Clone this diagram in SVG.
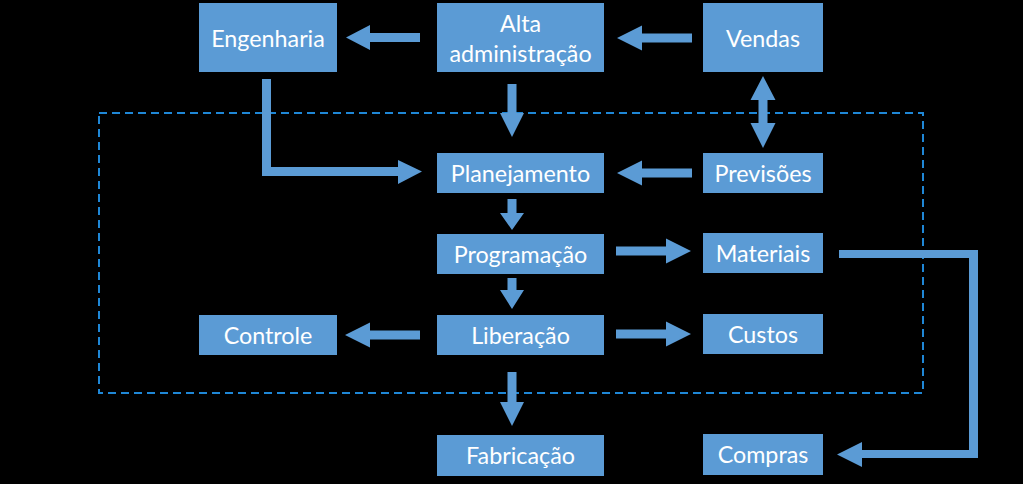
<svg xmlns="http://www.w3.org/2000/svg" width="1023" height="484" viewBox="0 0 1023 484">
<style>
.box{fill:#5B9BD5}
.t{fill:#FFFFFF;font-family:Lato,"Open Sans",sans-serif;font-size:23.3px;text-anchor:middle}
.arr{fill:#5B9BD5}
.dash{fill:none;stroke:#1F87D6;stroke-width:2;stroke-dasharray:8 5}
</style>
<rect width="1023" height="484" fill="#000000"/>
<rect class="dash" x="99" y="113" width="824" height="280"/>
<g id="connectors">
<polygon class="arr" points="346,37.5 370,25 370,33 420,33 420,42 370,42 370,50"/>
<polygon class="arr" points="617,38 642,25.5 642,33.5 692,33.5 692,42.5 642,42.5 642,50.5"/>
<polygon class="arr" points="617,173 642,160.5 642,168.5 692,168.5 692,177.5 642,177.5 642,185.5"/>
<polygon class="arr" points="345,335 370,322.5 370,330.5 420,330.5 420,339.5 370,339.5 370,347.5"/>
<polygon class="arr" points="691,251 666,238.5 666,246.5 616,246.5 616,255.5 666,255.5 666,263.5"/>
<polygon class="arr" points="691,334 666,321.5 666,329.5 616,329.5 616,338.5 666,338.5 666,346.5"/>
<polygon class="arr" points="512,137 500,113 507.5,113 507.5,84 516.5,84 516.5,113 524,113"/>
<polygon class="arr" points="512,230 500,213 507.5,213 507.5,199 516.5,199 516.5,213 524,213"/>
<polygon class="arr" points="512,309 500,290 507.5,290 507.5,278 516.5,278 516.5,290 524,290"/>
<polygon class="arr" points="512,426 500,402 507.5,402 507.5,372 516.5,372 516.5,402 524,402"/>
<polygon class="arr" points="763,76 775.5,100 767.5,100 767.5,123 775.5,123 763,148 750.5,123 758.5,123 758.5,100 750.5,100"/>
<polygon class="arr" points="262,79 271,79 271,167 398,167 398,160 422,171.5 398,184 398,176 262,176"/>
<polygon class="arr" points="839,250 978,250 978,458 862,458 862,467 837,454.5 862,442 862,450 969,450 969,258 839,258"/>
</g>
<g id="engenharia"><rect class="box" x="199" y="3" width="138" height="69"/><text class="t" x="268" y="46.5">Engenharia</text></g>
<g id="alta"><rect class="box" x="437" y="3" width="167" height="69"/><text class="t" x="520.5" y="32">Alta</text><text class="t" x="520.5" y="62">administração</text></g>
<g id="vendas"><rect class="box" x="703" y="3" width="120" height="69"/><text class="t" x="763" y="46.5">Vendas</text></g>
<g id="planejamento"><rect class="box" x="437" y="153" width="167" height="40"/><text class="t" x="520.5" y="181.5">Planejamento</text></g>
<g id="previsoes"><rect class="box" x="703" y="153" width="120" height="40"/><text class="t" x="763" y="181.5">Previsões</text></g>
<g id="programacao"><rect class="box" x="437" y="234" width="167" height="40"/><text class="t" x="520.5" y="262.5">Programação</text></g>
<g id="materiais"><rect class="box" x="703" y="233" width="120" height="40"/><text class="t" x="763" y="261.5">Materiais</text></g>
<g id="controle"><rect class="box" x="199" y="315" width="138" height="40"/><text class="t" x="268" y="343.5">Controle</text></g>
<g id="liberacao"><rect class="box" x="437" y="315" width="167" height="40"/><text class="t" x="520.5" y="343.5">Liberação</text></g>
<g id="custos"><rect class="box" x="703" y="314" width="120" height="40"/><text class="t" x="763" y="342.5">Custos</text></g>
<g id="fabricacao"><rect class="box" x="437" y="435" width="167" height="41"/><text class="t" x="520.5" y="463.5">Fabricação</text></g>
<g id="compras"><rect class="box" x="703" y="434" width="120" height="41"/><text class="t" x="763" y="462.5">Compras</text></g>
</svg>
